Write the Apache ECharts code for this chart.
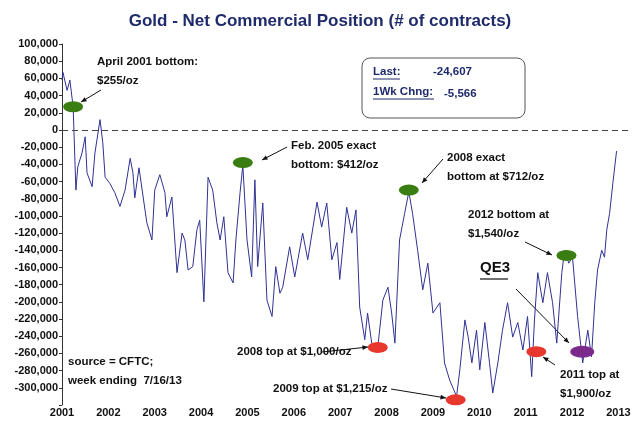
<!DOCTYPE html>
<html><head><meta charset="utf-8">
<script src="https://cdn.jsdelivr.net/npm/echarts@6/dist/echarts.min.js"></script>
<style>html,body{margin:0;padding:0;background:#fff}#c{width:640px;height:445px}</style>
</head><body><div id="c"></div>
<script>
const years = [2001.00,2001.02,2001.11,2001.17,2001.24,2001.30,2001.34,2001.43,2001.50,2001.54,2001.65,2001.71,2001.82,2001.88,2001.93,2002.03,2002.14,2002.25,2002.36,2002.47,2002.53,2002.57,2002.66,2002.75,2002.83,2002.94,2003.00,2003.11,2003.22,2003.26,2003.37,2003.48,2003.59,2003.65,2003.72,2003.82,2003.91,2003.97,2004.06,2004.15,2004.25,2004.34,2004.41,2004.49,2004.58,2004.69,2004.75,2004.84,2004.90,2004.99,2005.09,2005.16,2005.22,2005.33,2005.42,2005.53,2005.61,2005.70,2005.76,2005.91,2006.02,2006.19,2006.30,2006.50,2006.60,2006.71,2006.82,2006.93,2006.99,2007.14,2007.25,2007.34,2007.42,2007.53,2007.59,2007.68,2007.81,2007.92,2008.03,2008.11,2008.18,2008.28,2008.39,2008.48,2008.56,2008.67,2008.78,2008.89,2009.00,2009.15,2009.25,2009.36,2009.51,2009.58,2009.69,2009.76,2009.84,2009.94,2010.01,2010.12,2010.22,2010.29,2010.40,2010.50,2010.61,2010.72,2010.83,2010.94,2011.04,2011.13,2011.19,2011.26,2011.37,2011.47,2011.58,2011.67,2011.78,2011.84,2011.93,2012.01,2012.12,2012.23,2012.34,2012.42,2012.49,2012.55,2012.64,2012.70,2012.75,2012.81,2012.88,2012.96];
const netPosition = [58000,67000,46000,58000,27000,-70000,-43000,-27000,-8000,-50000,-66000,-27000,12000,-15000,-55000,-62000,-73000,-89000,-70000,-33000,-50000,-79000,-44000,-78000,-108000,-128000,-70000,-52000,-73000,-101000,-78000,-166000,-120000,-128000,-163000,-159000,-116000,-105000,-200000,-55000,-70000,-108000,-128000,-101000,-166000,-178000,-128000,-73000,-41000,-128000,-171000,-58000,-159000,-85000,-198000,-217000,-159000,-190000,-183000,-136000,-171000,-120000,-151000,-84000,-113000,-85000,-151000,-131000,-174000,-90000,-120000,-93000,-206000,-244000,-213000,-248000,-253000,-198000,-183000,-213000,-248000,-128000,-97000,-72000,-97000,-140000,-186000,-155000,-213000,-201000,-271000,-291000,-310000,-279000,-221000,-241000,-271000,-233000,-279000,-224000,-271000,-306000,-271000,-233000,-201000,-241000,-224000,-256000,-217000,-287000,-221000,-166000,-201000,-166000,-201000,-248000,-166000,-140000,-155000,-148000,-217000,-271000,-233000,-264000,-201000,-163000,-140000,-148000,-116000,-97000,-62000,-24607];
const markers = [
  {coord:[2001.24,27000], color:'#3a7d12'},
  {coord:[2004.90,-38000], color:'#3a7d12'},
  {coord:[2008.48,-70000], color:'#3a7d12'},
  {coord:[2011.88,-146000], color:'#3a7d12'},
  {coord:[2007.81,-253000], color:'#e8372c'},
  {coord:[2009.49,-314000], color:'#e8372c'},
  {coord:[2011.23,-258000], color:'#e8372c'},
];
const purpleMarker = [2012.22,-258000];
const yearLabels = [2001,2002,2003,2004,2005,2006,2007,2008,2009,2010,2011,2012,2013];

const F = 'Liberation Sans, Arial, sans-serif';
const chart = echarts.init(document.getElementById('c'));
function txt(x,y,s,extra){return Object.assign({type:'text',left:x,top:y,style:{text:s,font:'bold 11.5px '+F,fill:'#111'}},extra||{});}
function arrow(x1,y1,x2,y2){
  const a=Math.atan2(y2-y1,x2-x1),L=6;
  return {type:'group',children:[
    {type:'line',shape:{x1,y1,x2,y2},style:{stroke:'#111',lineWidth:1}},
    {type:'polygon',shape:{points:[[x2,y2],[x2-L*Math.cos(a-0.4),y2-L*Math.sin(a-0.4)],[x2-L*Math.cos(a+0.4),y2-L*Math.sin(a+0.4)]]},style:{fill:'#111'}}
  ]};
}
const mp = markers.map(m=>({coord:m.coord,itemStyle:{color:m.color}}));
mp.push({coord:purpleMarker,symbolSize:[24,12],itemStyle:{color:'#7b2a8c'}});
chart.setOption({
  animation:false,
  title:{text:'Gold - Net Commercial Position (# of contracts)',left:'center',top:8,
    textStyle:{fontFamily:F,fontSize:17,fontWeight:'bold',color:'#1f2a6b'}},
  grid:{left:62,right:10,top:44,bottom:40},
  xAxis:{type:'value',min:2001,max:2013.25,interval:1,
    axisLine:{show:false},axisTick:{show:false},splitLine:{show:false},
    axisLabel:{margin:2,fontFamily:F,fontWeight:'bold',fontSize:11,color:'#111',
      formatter:v=>yearLabels.includes(v)?String(v):''}},
  yAxis:{type:'value',min:-320000,max:100000,interval:20000,
    axisLine:{show:true,lineStyle:{color:'#333'}},axisTick:{show:true,length:3},splitLine:{show:false},
    axisLabel:{margin:4,fontFamily:F,fontWeight:'bold',fontSize:11,color:'#111',
      formatter:v=>v<-300000?'':v.toLocaleString('en-US')}},
  series:[{type:'line',data:years.map((y,i)=>[y,netPosition[i]]),symbol:'none',clip:false,
    lineStyle:{color:'#2e3192',width:1},
    markLine:{silent:true,symbol:'none',label:{show:false},lineStyle:{color:'#444',type:[6,4],width:1},data:[{yAxis:0}]},
    markPoint:{symbol:'circle',symbolSize:[20,11],label:{show:false},data:mp}
  }],
  graphic:[
    txt(97,56,'April 2001 bottom:'),txt(97,75,'$255/oz'),arrow(101,90,81,102),
    txt(291,140,'Feb. 2005 exact'),txt(291,159,'bottom: $412/oz'),arrow(287,147,262,160),
    txt(447,152,'2008 exact'),txt(447,171,'bottom at $712/oz'),arrow(443,159,422,183),
    txt(468,209,'2012 bottom at'),txt(468,228,'$1,540/oz'),arrow(525,242,552,255),
    txt(480,260,'QE3',{style:{text:'QE3',font:'bold 15px '+F,fill:'#111'}}),
    {type:'line',shape:{x1:480,y1:279,x2:508,y2:279},style:{stroke:'#111',lineWidth:1.2}},
    arrow(516,289,569,343),
    txt(560,369,'2011 top at'),txt(560,388,'$1,900/oz'),arrow(555,365,543,357),
    txt(237,346,'2008 top at $1,000/oz'),arrow(322,352,368,347),
    txt(273,383,'2009 top at $1,215/oz'),arrow(391,389,446,398),
    txt(68,356,'source = CFTC;'),txt(68,375,'week ending  7/16/13'),
    {type:'rect',shape:{x:362,y:58,width:163,height:60,r:8},style:{fill:'#fff',stroke:'#555',lineWidth:1}},
    txt(373,66,'Last:',{style:{text:'Last:',font:'bold 11.5px '+F,fill:'#1f2a6b'}}),
    {type:'line',shape:{x1:373,y1:79,x2:400,y2:79},style:{stroke:'#1f2a6b',lineWidth:1}},
    txt(433,66,'-24,607',{style:{text:'-24,607',font:'bold 11.5px '+F,fill:'#1f2a6b'}}),
    txt(373,86,'1Wk Chng:',{style:{text:'1Wk Chng:',font:'bold 11.5px '+F,fill:'#1f2a6b'}}),
    {type:'line',shape:{x1:373,y1:99,x2:434,y2:99},style:{stroke:'#1f2a6b',lineWidth:1}},
    txt(444,88,'-5,566',{style:{text:'-5,566',font:'bold 11.5px '+F,fill:'#1f2a6b'}})
  ]
});
</script></body></html>
